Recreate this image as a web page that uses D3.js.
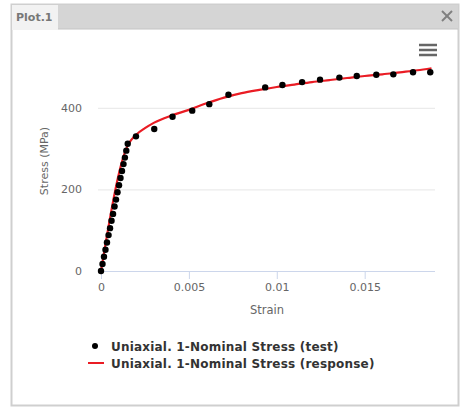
<!DOCTYPE html>
<html>
<head>
<meta charset="utf-8">
<script src="https://cdn.jsdelivr.net/npm/d3@7"></script>
<style>
  body { margin: 0; background: #fff; }
  text { font-family: "DejaVu Sans", Verdana, sans-serif; }
</style>
</head>
<body>
<div id="chart"></div>
<script>
var svgWidth = 465;
var svgHeight = 408;

// test points (strain, stress in MPa)
var testStrain = [0, 0.000085, 0.00017, 0.000255, 0.00034, 0.00043, 0.000515, 0.0006, 0.000685,
  0.00077, 0.000855, 0.00094, 0.001025, 0.00111, 0.001195, 0.00128, 0.00136, 0.00144, 0.00152,
  0.00199, 0.00303, 0.00407, 0.00519, 0.00616, 0.00725, 0.00934, 0.01032, 0.01144, 0.01246,
  0.01356, 0.01455, 0.01566, 0.01663, 0.01775, 0.01873];
var testStress = [0, 17, 35, 52, 70, 88, 105, 123, 140,
  158, 175, 193, 210, 228, 245, 262, 278, 295, 312,
  330, 348, 378, 393, 409, 432, 450, 456, 463, 469,
  474, 478, 481, 482, 487, 487];

// simulated response curve
var respStrain = [0, 0.00155, 0.0017, 0.002, 0.0025, 0.003, 0.004, 0.005, 0.006, 0.007, 0.008,
  0.009, 0.010, 0.011, 0.012, 0.013, 0.014, 0.015, 0.016, 0.017, 0.018, 0.0188];
var respStress = [0, 310, 320, 334, 350, 363, 381, 395, 411, 425, 436,
  444, 451, 457, 463, 468, 473, 478, 482, 487, 492, 497];

var xTicks = [0, 0.005, 0.01, 0.015];
var yTicks = [0, 200, 400];
var legendLabels = ["Uniaxial. 1-Nominal Stress (test)", "Uniaxial. 1-Nominal Stress (response)"];

var svg = d3.select("#chart").append("svg")
  .attr("width", svgWidth)
  .attr("height", svgHeight);

// window frame
svg.append("rect").attr("x", 11.5).attr("y", 4.5).attr("width", 447).attr("height", 401)
  .attr("fill", "#fff").attr("stroke", "#cfcfcf").attr("stroke-width", 2);
svg.append("rect").attr("x", 12).attr("y", 5).attr("width", 446).attr("height", 24)
  .attr("fill", "#d5d5d5");
svg.append("line").attr("x1", 12).attr("x2", 458).attr("y1", 29).attr("y2", 29)
  .attr("stroke", "#c4c4c4");
svg.append("rect").attr("x", 12).attr("y", 5).attr("width", 46).attr("height", 25)
  .attr("fill", "#f2f2f2");
svg.append("text").attr("x", 16).attr("y", 21).text("Plot.1")
  .attr("font-size", "11px").attr("font-weight", "bold").attr("fill", "#777");
var close = svg.append("g").attr("stroke", "#808080").attr("stroke-width", 2);
close.append("line").attr("x1", 442).attr("y1", 11).attr("x2", 452).attr("y2", 21);
close.append("line").attr("x1", 452).attr("y1", 11).attr("x2", 442).attr("y2", 21);

// hamburger menu
[45, 50, 55].forEach(function(y) {
  svg.append("line").attr("x1", 419).attr("x2", 437).attr("y1", y).attr("y2", y)
    .attr("stroke", "#666").attr("stroke-width", 2.5);
});

var plotLeft = 98, plotRight = 435;
var x = d3.scaleLinear().domain([0, 0.019]).range([101, 435]);
var y = d3.scaleLinear().domain([0, 500]).range([271, 67]);

// gridlines
svg.append("g").selectAll("line").data(yTicks.filter(function(d) { return d > 0; }))
  .enter().append("line")
  .attr("x1", plotLeft).attr("x2", plotRight)
  .attr("y1", function(d) { return y(d) + 0.5; }).attr("y2", function(d) { return y(d) + 0.5; })
  .attr("stroke", "#e6e6e6");

// x axis
var xAxis = svg.append("g")
  .attr("transform", "translate(0," + y(0) + ")")
  .call(d3.axisBottom(x).tickValues(xTicks).tickSize(8).tickPadding(4)
    .tickFormat(function(d) { return d3.format("")(d); }));
xAxis.select(".domain").attr("d", "M" + plotLeft + ",0.5H" + plotRight).attr("stroke", "#ccd6eb");
xAxis.selectAll(".tick line").attr("stroke", "#ccd6eb");
xAxis.selectAll(".tick text").attr("fill", "#666").attr("font-size", "11px")
  .attr("font-family", "DejaVu Sans");

// y axis
var yAxis = svg.append("g")
  .attr("transform", "translate(" + plotLeft + ",0)")
  .call(d3.axisLeft(y).tickValues(yTicks).tickSize(0).tickPadding(16));
yAxis.select(".domain").remove();
yAxis.selectAll(".tick text").attr("fill", "#666").attr("font-size", "11px")
  .attr("font-family", "DejaVu Sans");

// axis titles
svg.append("text")
  .attr("transform", "translate(48,161) rotate(-90)")
  .attr("text-anchor", "middle")
  .attr("fill", "#666").attr("font-size", "11px")
  .text("Stress (MPa)");
svg.append("text")
  .attr("x", 267).attr("y", 314)
  .attr("text-anchor", "middle")
  .attr("fill", "#666").attr("font-size", "11.5px")
  .text("Strain");

// response line
var line = d3.line()
  .x(function(d, i) { return x(respStrain[i]); })
  .y(function(d) { return y(d); })
  .curve(d3.curveMonotoneX);
svg.append("path")
  .datum(respStress)
  .attr("d", line)
  .attr("fill", "none")
  .attr("stroke", "#ea1c24")
  .attr("stroke-width", 2.2);

// test points
svg.append("g").selectAll("circle")
  .data(testStress)
  .enter().append("circle")
  .attr("cx", function(d, i) { return x(testStrain[i]); })
  .attr("cy", function(d) { return y(d); })
  .attr("r", 3.2)
  .attr("fill", "#000");

// legend
var legend = svg.append("g");
legend.append("circle").attr("cx", 95).attr("cy", 346).attr("r", 3).attr("fill", "#000");
legend.append("line").attr("x1", 88).attr("x2", 104).attr("y1", 363).attr("y2", 363)
  .attr("stroke", "#ea1c24").attr("stroke-width", 2);
legend.selectAll("text").data(legendLabels).enter().append("text")
  .attr("x", 111)
  .attr("y", function(d, i) { return 350.5 + i * 17; })
  .attr("fill", "#333")
  .attr("font-size", "12px")
  .attr("font-weight", "bold")
  .attr("letter-spacing", "0.2px")
  .text(function(d) { return d; });
</script>
</body>
</html>
